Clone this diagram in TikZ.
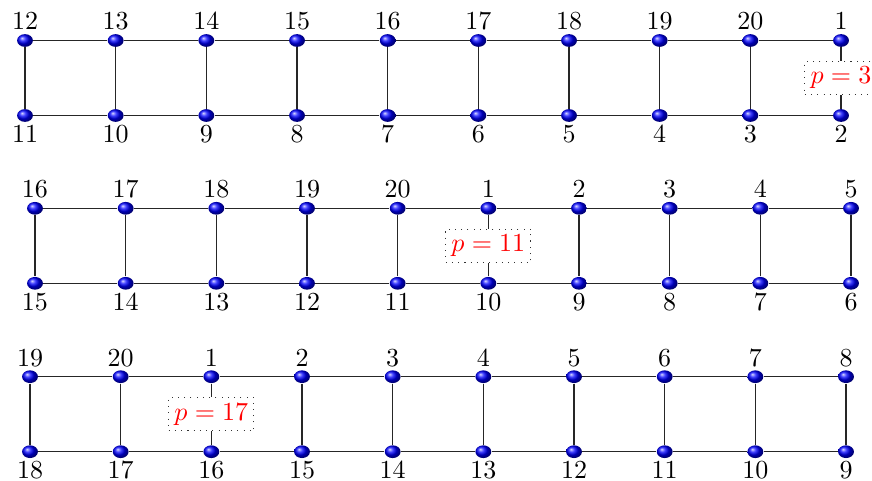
\documentclass[tikz,border=0pt]{standalone}
\usetikzlibrary{shapes.geometric,backgrounds}
\begin{document}
\begin{tikzpicture}[x=0.3846pt,y=-0.3846pt,
  ball/.style={ellipse, ball color=blue, minimum width=6.1pt, minimum height=4.9pt, inner sep=0pt},
  lab/.style={inner sep=0pt, anchor=base},
  pbox/.style={draw=black!80, dotted, fill=white, text=red, inner sep=2.2pt},
  edge/.style={draw=black!85, line width=0.45pt}]
\useasboundingbox (0,0) rectangle (872,481);
\foreach \r/\yy/\xx/\s/\pc/\p in {1/40.5/25/12/10/3, 2/208.3/35/16/6/11, 3/376.7/30/19/3/17} {
  \foreach \i in {1,...,10} {
    \pgfmathsetmacro\X{\xx+(\i-1)*90.67}
    \pgfmathtruncatemacro\T{mod(\s+\i-2,20)+1}
    \pgfmathtruncatemacro\B{\s-\i}
    \node[ball] (t\r-\i) at (\X,\yy) {};
    \node[ball] (b\r-\i) at (\X,\yy+75) {};
    \node[lab] (lt\r-\i) at (\X,\yy-10.7) {\T};
    \node[lab] (lb\r-\i) at (\X,\yy+102.3) {\B};
    \ifnum\i=\pc
      \node[pbox] (p\r) at (\X,\yy+37.5) {$p=\p$};
      \begin{pgfonlayer}{background}
        \draw[edge] (t\r-\i) -- (p\r) -- (b\r-\i);
      \end{pgfonlayer}
    \else
      \begin{pgfonlayer}{background}
        \draw[edge] (t\r-\i) -- (b\r-\i);
      \end{pgfonlayer}
    \fi
  }
  \begin{pgfonlayer}{background}
    \foreach \i [evaluate=\i as \j using int(\i+1)] in {1,...,9} {
      \draw[edge] (t\r-\i) -- (t\r-\j);
      \draw[edge] (b\r-\i) -- (b\r-\j);
    }
  \end{pgfonlayer}
}
\end{tikzpicture}
\end{document}
